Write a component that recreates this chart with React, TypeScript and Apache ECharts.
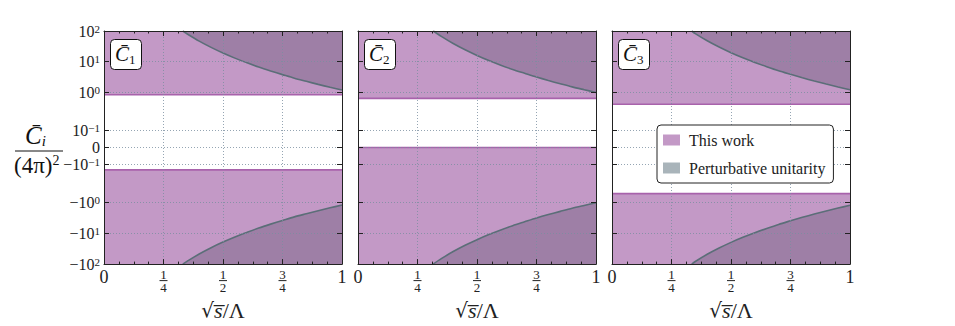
import React, { useEffect, useRef } from "react";
import * as echarts from "echarts";

// ---- data ----
const panelLabels = ["1", "2", "3"];
const xTickValues = [0, 0.25, 0.5, 0.75, 1];
const yTickValues = [-100, -10, -1, -0.1, 0, 0.1, 1, 10, 100];

// "This work" allowed band edges (region outside is shaded)
const thisWorkUpper = [0.87, 0.7, 0.49];
const thisWorkLower = [-0.137, 0, -0.58];

// perturbative unitarity boundary, per panel
const unitarityX1 = [0.331, 0.35, 0.4, 0.45, 0.5, 0.55, 0.6, 0.65, 0.7, 0.75, 0.8, 0.85, 0.9, 0.95, 1.0];
const unitarityUp1 = [100, 80, 46.9, 29.3, 19.2, 13.1, 9.3, 6.7, 5.0, 3.8, 2.9, 2.3, 1.83, 1.47, 1.2];
const unitarityLow1 = [-100, -80, -46.9, -29.3, -19.2, -13.1, -9.3, -6.7, -5.0, -3.8, -2.9, -2.3, -1.83, -1.47, -1.2];
const unitarityX2 = [0.316, 0.35, 0.4, 0.45, 0.5, 0.55, 0.6, 0.65, 0.7, 0.75, 0.8, 0.85, 0.9, 0.95, 1.0];
const unitarityUp2 = [100, 66.6, 39.1, 24.4, 16.0, 10.9, 7.7, 5.6, 4.2, 3.16, 2.44, 1.92, 1.52, 1.23, 1.0];
const unitarityLow2 = [-100, -66.6, -39.1, -24.4, -16.0, -10.9, -7.7, -5.6, -4.2, -3.16, -2.44, -1.92, -1.52, -1.23, -1.0];
const unitarityX3 = [0.335, 0.35, 0.4, 0.45, 0.5, 0.55, 0.6, 0.65, 0.7, 0.75, 0.8, 0.85, 0.9, 0.95, 1.0];
const unitarityUp3 = [100, 82, 48, 30, 19.6, 13.4, 9.5, 6.9, 5.1, 3.9, 3.0, 2.35, 1.87, 1.5, 1.22];
const unitarityLow3 = [-100, -82, -48, -30, -19.6, -13.4, -9.5, -6.9, -5.1, -3.9, -3.0, -2.35, -1.87, -1.5, -1.22];

const unitarityX = [unitarityX1, unitarityX2, unitarityX3];
const unitarityUp = [unitarityUp1, unitarityUp2, unitarityUp3];
const unitarityLow = [unitarityLow1, unitarityLow2, unitarityLow3];

// ---- styles ----
const FONT = "'Liberation Serif', 'DejaVu Serif', 'Times New Roman', serif";
const PURPLE = "#c399c6";
const PURPLE_LINE = "#a862ab";
const DARK = "#9e7fa6";
const CURVE = "#5b6e78";
const GREY_PATCH = "#a9b4ba";
const GRID_COLOR = "#7a8ea0";
const AXIS_COLOR = "#222";

// symmetric log-like scale matching the reference axis
function T(y: number): number {
  const a = Math.abs(y);
  const s = y < 0 ? -1 : 1;
  if (a <= 0.1) return s * a * 5.56;
  if (a <= 1) return s * (0.556 + 1.238 * Math.log10(a / 0.1));
  return s * (1.794 + Math.log10(a));
}
const YMAX = T(100);

const supMap: Record<string, string> = { "2": "2", "1": "1", "0": "0", "-1": "−1" };
function yLabel(value: number): string {
  let idx = -1;
  for (let i = 0; i < yTickValues.length; i++) {
    if (Math.abs(T(yTickValues[i]) - value) < 1e-4) idx = i;
  }
  if (idx < 0) return "";
  const v = yTickValues[idx];
  if (v === 0) return "{m|0}";
  const e = Math.round(Math.log10(Math.abs(v)));
  const sign = v < 0 ? "−" : "";
  return `{m|${sign}10}{p|${supMap[String(e)]}}`;
}

function xLabel(v: number): string {
  if (v === 0) return "{big|0}";
  if (v === 1) return "{big|1}";
  const frac: Record<string, [string, string]> = {
    "0.25": ["1", "4"],
    "0.5": ["1", "2"],
    "0.75": ["3", "4"],
  };
  const f = frac[String(v)];
  if (!f) return "";
  return `{n|${f[0]}}\n{bar| }\n{d|${f[1]}}`;
}

const GRID_LEFT = [104, 358, 612];
const GRID_TOP = 31;
const GRID_W = 238;
const GRID_H = 239;

const txt = (size: number, extra: any = {}) => ({
  fontFamily: FONT,
  fontSize: size,
  fontWeight: "normal",
  color: AXIS_COLOR,
  ...extra,
});

export default function App() {
  const ref = useRef<HTMLDivElement>(null);

  useEffect(() => {
    document.body.style.margin = "0";
    if (!ref.current) return;
    const chart = echarts.init(ref.current, undefined, { renderer: "svg" });

    const grids: any[] = [];
    const xAxes: any[] = [];
    const yAxes: any[] = [];
    const series: any[] = [];
    const titles: any[] = [];
    const yTicksT = yTickValues.map(T);

    for (let i = 0; i < 3; i++) {
      grids.push({ left: GRID_LEFT[i], top: GRID_TOP, width: GRID_W, height: GRID_H });
      const baseX = {
        gridIndex: i,
        type: "value",
        min: xTickValues[0],
        max: xTickValues[xTickValues.length - 1],
        interval: 0.25,
        z: 5,
        axisLine: { show: true, onZero: false, lineStyle: { color: AXIS_COLOR, width: 1 } },
        axisTick: { show: true, inside: true, length: 5, lineStyle: { color: AXIS_COLOR } },
        minorTick: { show: true, splitNumber: 4, length: 2.5, lineStyle: { color: AXIS_COLOR } },
      };
      xAxes.push({
        ...baseX,
        position: "bottom",
        splitLine: { show: true, lineStyle: { color: GRID_COLOR, type: [1, 2], width: 0.8 } },
        axisLabel: {
          show: true,
          margin: 5,
          formatter: xLabel,
          color: AXIS_COLOR,
          fontFamily: FONT,
          rich: {
            big: txt(18, { lineHeight: 16 }),
            n: txt(13, { lineHeight: 10 }),
            d: txt(13, { lineHeight: 11 }),
            bar: { width: 8, height: 1, lineHeight: 3, fontSize: 1, backgroundColor: AXIS_COLOR },
          },
        },
        name: "{r|√}{s|s\u0305}{l|/Λ}",
        nameLocation: "middle",
        nameGap: 25,
        nameTextStyle: {
          fontFamily: FONT,
          rich: {
            r: txt(20, { fontFamily: "'DejaVu Serif', serif" }),
            s: txt(22, { fontStyle: "italic" }),
            l: txt(22),
          },
        },
      });
      xAxes.push({
        ...baseX,
        position: "top",
        splitLine: { show: false },
        axisLabel: { show: false },
      });

      const baseY = {
        gridIndex: i,
        type: "value",
        min: -YMAX,
        max: YMAX,
        z: 5,
        axisLine: { show: true, onZero: false, lineStyle: { color: AXIS_COLOR, width: 1 } },
        axisTick: { show: true, inside: true, length: 5, customValues: yTicksT, lineStyle: { color: AXIS_COLOR } },
      };
      yAxes.push({
        ...baseY,
        position: "left",
        splitLine: { show: true, lineStyle: { color: GRID_COLOR, type: [1, 2], width: 0.8 } },
        axisLabel: {
          show: i === 0,
          customValues: yTicksT,
          margin: 4,
          formatter: yLabel,
          fontFamily: FONT,
          rich: {
            m: txt(16, { lineHeight: 16 }),
            p: txt(11, { lineHeight: 10, verticalAlign: "top" }),
          },
        },
      });
      yAxes.push({
        ...baseY,
        position: "right",
        splitLine: { show: false },
        axisLabel: { show: false },
      });

      const xi = 2 * i;
      const yi = 2 * i;
      series.push({
        name: "This work",
        type: "line",
        xAxisIndex: xi,
        yAxisIndex: yi,
        symbol: "none",
        z: 2,
        data: [
          [0, T(thisWorkUpper[i])],
          [1, T(thisWorkUpper[i])],
        ],
        lineStyle: { color: PURPLE_LINE, width: 1.6 },
        itemStyle: { color: PURPLE },
        areaStyle: { color: PURPLE, opacity: 1, origin: "end" },
      });
      series.push({
        name: "This work",
        type: "line",
        xAxisIndex: xi,
        yAxisIndex: yi,
        symbol: "none",
        z: 2,
        data: [
          [0, T(thisWorkLower[i])],
          [1, T(thisWorkLower[i])],
        ],
        lineStyle: { color: PURPLE_LINE, width: 1.6 },
        itemStyle: { color: PURPLE },
        areaStyle: { color: PURPLE, opacity: 1, origin: "start" },
      });
      series.push({
        name: "Perturbative unitarity",
        type: "line",
        xAxisIndex: xi,
        yAxisIndex: yi,
        symbol: "none",
        smooth: 0.3,
        z: 3,
        data: unitarityX[i].map((x, k) => [x, T(unitarityUp[i][k])]),
        lineStyle: { color: CURVE, width: 1.6 },
        itemStyle: { color: GREY_PATCH },
        areaStyle: { color: DARK, opacity: 1, origin: "end" },
      });
      series.push({
        name: "Perturbative unitarity",
        type: "line",
        xAxisIndex: xi,
        yAxisIndex: yi,
        symbol: "none",
        smooth: 0.3,
        z: 3,
        data: unitarityX[i].map((x, k) => [x, T(unitarityLow[i][k])]),
        lineStyle: { color: CURVE, width: 1.6 },
        itemStyle: { color: GREY_PATCH },
        areaStyle: { color: DARK, opacity: 1, origin: "start" },
      });

      titles.push({
        text: `{c|C\u0304}{s|${panelLabels[i]}}`,
        left: GRID_LEFT[i] + 6,
        top: 38,
        padding: [4, 6, 4, 5],
        backgroundColor: "#fff",
        borderColor: "#111",
        borderWidth: 1,
        borderRadius: 4,
        z: 10,
        textStyle: {
          fontFamily: FONT,
          fontWeight: "normal",
          rich: {
            c: txt(21, { fontStyle: "italic", color: "#111", lineHeight: 24 }),
            s: txt(13, { color: "#111", lineHeight: 13, verticalAlign: "bottom" }),
          },
        },
      });
    }

    chart.setOption({
      animation: false,
      backgroundColor: "#fff",
      title: titles,
      grid: grids,
      xAxis: xAxes,
      yAxis: yAxes,
      series,
      legend: {
        data: [
          { name: "This work", itemStyle: { color: PURPLE, borderWidth: 0 } },
          { name: "Perturbative unitarity", itemStyle: { color: GREY_PATCH, borderWidth: 0 } },
        ],
        icon: "rect",
        orient: "vertical",
        left: 657,
        top: 125,
        itemWidth: 17,
        itemHeight: 11,
        itemGap: 12,
        padding: [7, 8, 7, 6],
        backgroundColor: "#fff",
        borderColor: "#222",
        borderWidth: 1,
        borderRadius: 4,
        selectedMode: false,
        z: 20,
        textStyle: { fontFamily: FONT, fontSize: 16, color: "#222", padding: [0, 0, 0, 4] },
      },
      graphic: [
        {
          type: "text",
          left: 25,
          top: 123,
          style: {
            text: "{c|C\u0304}{s|i}",
            fontFamily: FONT,
            rich: {
              c: { fontFamily: FONT, fontStyle: "italic", fontSize: 25, fill: "#111", lineHeight: 26 },
              s: { fontFamily: FONT, fontStyle: "italic", fontSize: 15, fill: "#111", lineHeight: 15, verticalAlign: "bottom" },
            },
          },
        },
        {
          type: "line",
          shape: { x1: 15, y1: 151, x2: 63, y2: 151 },
          style: { stroke: "#111", lineWidth: 1 },
        },
        {
          type: "text",
          left: 14,
          top: 153,
          style: {
            text: "{c|(4π)}{p|2}",
            fontFamily: FONT,
            rich: {
              c: { fontFamily: FONT, fontSize: 23, fill: "#111", lineHeight: 24 },
              p: { fontFamily: FONT, fontSize: 14, fill: "#111", lineHeight: 14, verticalAlign: "top" },
            },
          },
        },
      ],
    });

    return () => chart.dispose();
  }, []);

  return <div ref={ref} style={{ width: 955, height: 326 }} />;
}
